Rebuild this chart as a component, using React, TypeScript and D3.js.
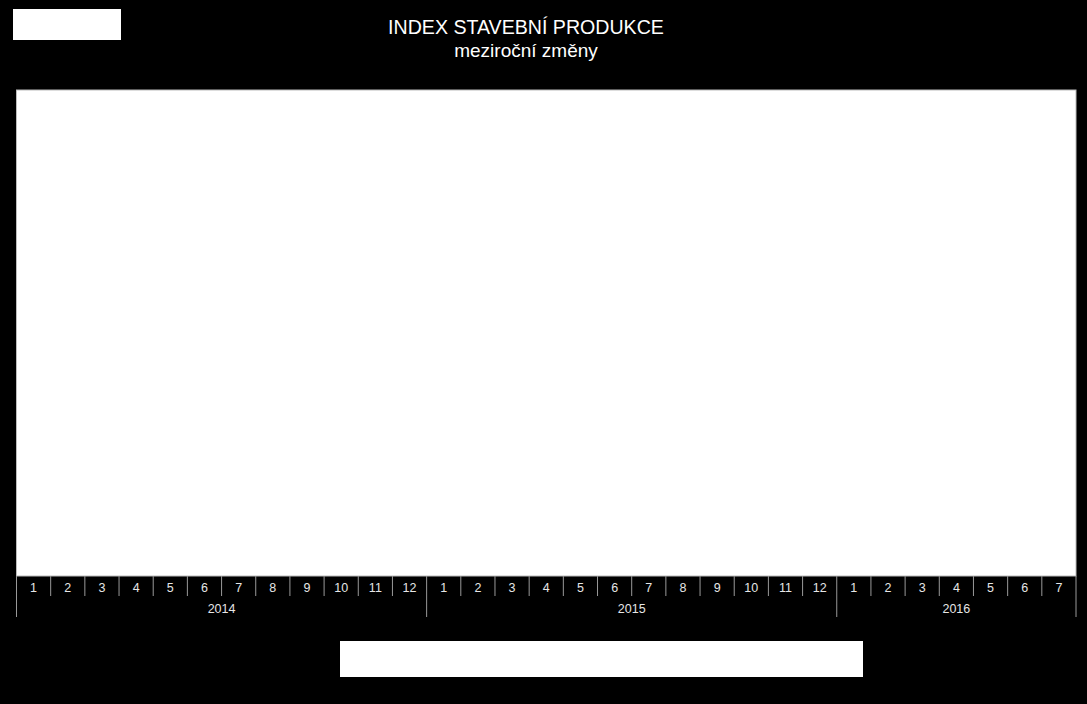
import { useEffect, useRef } from 'react';
import * as d3 from 'd3';

// Category axis: months grouped by year
const years = ['2014', '2015', '2016'];
const monthsPerYear = [12, 12, 7];
const title = 'INDEX STAVEBNÍ PRODUKCE';
const subtitle = 'meziroční změny';

export default function App() {
  const ref = useRef<SVGSVGElement>(null);

  useEffect(() => {
    document.body.style.margin = '0';
    document.body.style.background = '#000';
    if (!ref.current) return;
    const svg = d3.select(ref.current);
    svg.selectAll('*').remove();

    const width = 1087;
    const height = 704;
    const plot = { left: 16.5, right: 1076, top: 90, bottom: 576 };
    const font = '"Liberation Sans", Arial, sans-serif';

    svg.append('rect').attr('width', width).attr('height', height).attr('fill', '#000');

    // Top-left white box
    svg.append('rect').attr('x', 13).attr('y', 9).attr('width', 108).attr('height', 31).attr('fill', '#fff');

    // Titles
    svg.append('text')
      .attr('x', 526).attr('y', 34)
      .attr('text-anchor', 'middle')
      .attr('font-family', font).attr('font-size', 19.6)
      .attr('fill', '#fff')
      .text(title);
    svg.append('text')
      .attr('x', 526).attr('y', 57)
      .attr('text-anchor', 'middle')
      .attr('font-family', font).attr('font-size', 19)
      .attr('fill', '#fff')
      .text(subtitle);

    // Plot area
    svg.append('rect')
      .attr('x', plot.left).attr('y', plot.top)
      .attr('width', plot.right - plot.left).attr('height', plot.bottom - plot.top)
      .attr('fill', '#fff').attr('stroke', '#bbb').attr('stroke-width', 1);

    // Category scale
    const cats: { year: string; month: number }[] = [];
    years.forEach((y, i) => {
      for (let m = 1; m <= monthsPerYear[i]; m++) cats.push({ year: y, month: m });
    });
    const x = d3.scaleBand<number>()
      .domain(cats.map((_, i) => i))
      .range([plot.left, plot.right]);

    const axis = svg.append('g');
    // Month separators
    cats.forEach((c, i) => {
      const x0 = x(i)!;
      const isYearStart = c.month === 1;
      axis.append('line')
        .attr('x1', x0).attr('x2', x0)
        .attr('y1', plot.bottom).attr('y2', isYearStart ? 617 : 596)
        .attr('stroke', '#999').attr('stroke-width', 1);
      axis.append('text')
        .attr('x', x0 + x.bandwidth() / 2).attr('y', 592)
        .attr('text-anchor', 'middle')
        .attr('font-family', font).attr('font-size', 12.5)
        .attr('fill', '#e6e6e6')
        .text(String(c.month));
    });
    axis.append('line')
      .attr('x1', plot.right).attr('x2', plot.right)
      .attr('y1', plot.bottom).attr('y2', 617)
      .attr('stroke', '#999').attr('stroke-width', 1);

    // Year labels
    let start = 0;
    years.forEach((y, i) => {
      const end = start + monthsPerYear[i];
      const x0 = x(start)!;
      const x1 = x(end - 1)! + x.bandwidth();
      axis.append('text')
        .attr('x', (x0 + x1) / 2).attr('y', 613)
        .attr('text-anchor', 'middle')
        .attr('font-family', font).attr('font-size', 12.5)
        .attr('fill', '#e6e6e6')
        .text(y);
      start = end;
    });

    // Legend box
    svg.append('rect').attr('x', 340).attr('y', 641).attr('width', 523).attr('height', 36).attr('fill', '#fff');
  }, []);

  return <svg ref={ref} width={1087} height={704} style={{ display: 'block' }} />;
}
